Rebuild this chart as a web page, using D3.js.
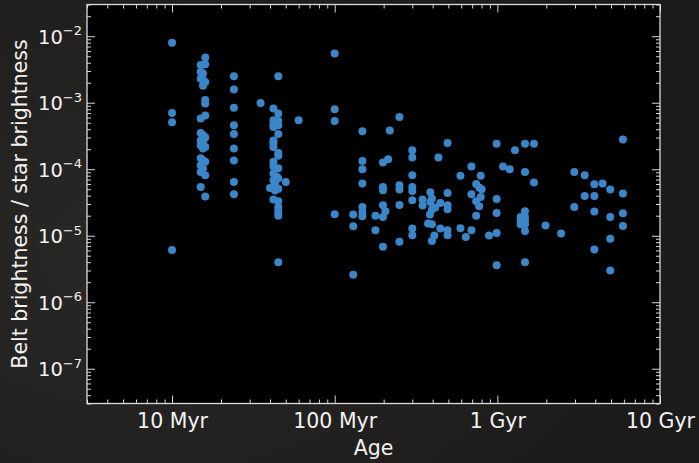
<!DOCTYPE html>
<html><head><meta charset="utf-8">
<script src="https://cdn.jsdelivr.net/npm/d3@7"></script>
<style>
html,body{margin:0;padding:0;background:#1f1e1c;}
svg{display:block;font-family:"DejaVu Sans",sans-serif;}
</style></head>
<body>
<svg id="chart" width="699" height="463"></svg>
<script>
// ---- data: ages in Myr, belt/star brightness ratio ----
const ages = [
 10,10,10,10,
 16,15,16,15,15.5,15,15.5,16,15.5,16,16,16,15,15,15.5,16,15,15.5,15,16,15.5,15,15.5,16,15,15.5,15,16,15,16,
 24,24,24,24,24,24,24,24,24,
 45,35,42,45,42,45,42,45,42,45,42,42,42,45,45,42,42,45,42,44,42,45,50,43,40,45,43,42,45,45,45,45,45,45,60,
 100,100,100,100,
 130,130,130,148,148,148,148,148,148,148,178,178,198,213,198,198,198,205,198,198,218,
 250,250,250,250,250,300,300,300,300,300,300,300,300,347,347,375,396,387,396,387,446,415,396,385,434,446,410,396,
 494,494,494,494,494,494,593,593,640,693,693,693,741,773,800,790,741,773,741,790,889,
 990,990,990,990,990,1084,1191,1283,1479,1679,1479,1679,1479,1390,1479,1390,1479,1390,1479,1479,1479,1978,2466,
 2972,2972,3444,3444,3948,3948,3948,3948,4436,4944,4944,4944,4944,5916,5916,5916,5916
];
const ratios = [
 8.0e-3,7.0e-4,5.1e-4,6.1e-6,
 4.8e-3,3.7e-3,3.8e-3,2.9e-3,2.75e-3,2.3e-3,2.2e-3,2.05e-3,1.8e-3,1.1e-3,9.7e-4,6.4e-4,5.8e-4,3.5e-4,3.25e-4,3.0e-4,2.7e-4,2.6e-4,2.3e-4,2.16e-4,2.05e-4,1.46e-4,1.36e-4,1.29e-4,1.15e-4,1.03e-4,9.1e-5,8.1e-5,5.4e-5,3.9e-5,
 2.5e-3,1.58e-3,8.4e-4,4.6e-4,3.4e-4,2.05e-4,1.35e-4,6.4e-5,4.2e-5,
 2.5e-3,9.9e-4,8.2e-4,6.9e-4,5.45e-4,5.3e-4,4.75e-4,4.6e-4,4.3e-4,3.4e-4,2.7e-4,2.46e-4,2.16e-4,1.76e-4,1.6e-4,1.29e-4,1.11e-4,1.03e-4,8.6e-5,7.7e-5,6.8e-5,7.3e-5,6.4e-5,6.1e-5,5.2e-5,5.1e-5,4.8e-5,3.5e-5,3.3e-5,2.7e-5,2.4e-5,2.2e-5,1.99e-5,4.0e-6,5.45e-4,
 5.5e-3,8.0e-4,5.3e-4,2.1e-5,
 2.08e-5,1.39e-5,2.6e-6,3.73e-4,1.33e-4,1.0e-4,6.1e-5,2.71e-5,2.28e-5,1.96e-5,1.99e-5,1.21e-5,1.26e-4,1.41e-4,5.42e-5,4.83e-5,2.88e-5,2.34e-5,1.92e-5,6.8e-6,3.82e-4,
 6.12e-4,5.75e-5,4.95e-5,2.9e-5,8.1e-6,1.93e-4,1.5e-4,8.1e-5,5.42e-5,4.72e-5,3.42e-5,1.28e-5,1.02e-5,3.5e-5,2.84e-5,1.53e-5,1.49e-5,4.51e-5,3.63e-5,3.22e-5,3.11e-5,2.65e-5,2.48e-5,2.08e-5,1.5e-4,1.28e-5,1.01e-5,8.3e-6,
 2.49e-4,4.4e-5,2.88e-5,2.5e-5,1.21e-5,1.02e-5,8.0e-5,1.3e-5,9.6e-6,1.1e-4,4.21e-5,1.21e-5,6.0e-5,5.3e-5,5.0e-5,8.0e-5,3.3e-5,2.78e-5,2.0e-5,3.83e-5,1.01e-5,
 2.42e-4,3.58e-5,2.2e-5,1.1e-5,3.6e-6,1.1e-4,1.0e-4,1.93e-4,2.42e-4,2.42e-4,9.1e-5,6.3e-5,2.33e-5,1.92e-5,1.92e-5,1.67e-5,1.67e-5,1.49e-5,1.49e-5,1.18e-5,4.0e-6,1.42e-5,1.08e-5,
 9.1e-5,2.71e-5,8.1e-5,3.97e-5,5.95e-5,3.97e-5,2.31e-5,6.2e-6,6.1e-5,4.95e-5,1.92e-5,9.0e-6,3.0e-6,2.8e-4,4.31e-5,2.18e-5,1.4e-5
];
const xMajorTicks = [10, 100, 1000, 10000];
const xTickLabels = ["10 Myr", "100 Myr", "1 Gyr", "10 Gyr"];
const yMajorExponents = [-7, -6, -5, -4, -3, -2];
const xTitle = "Age";
const yTitle = "Belt brightness / star brightness";

// ---- layout ----
const L = 87, R = 660, T = 4.5, B = 403.5;
const svg = d3.select("#chart");
const x = d3.scaleLog().domain([3, 10000]).range([L, R]);
const y = d3.scaleLog().domain([3e-8, 3e-2]).range([B, T]);

// background
const defs = svg.append("defs");
const g0 = defs.append("radialGradient").attr("id","bg").attr("cx","20%").attr("cy","55%").attr("r","80%");
g0.append("stop").attr("offset","0%").attr("stop-color","#2a2825");
g0.append("stop").attr("offset","100%").attr("stop-color","#1c1b1a");
svg.append("rect").attr("width",699).attr("height",463).attr("fill","url(#bg)");
svg.append("rect").attr("x",L).attr("y",T).attr("width",R-L).attr("height",B-T).attr("fill","#000");

const tickColor = "#d8d8d8";
function minorVals(lo, hi){
  const out=[];
  for(let p=Math.floor(Math.log10(lo)); p<=Math.ceil(Math.log10(hi)); p++){
    for(let m=2;m<=9;m++){ const v=m*Math.pow(10,p); if(v>=lo*0.999 && v<=hi*1.001) out.push(v); }
  }
  return out;
}
const xMinor = minorVals(3, 10000);
const yMinor = minorVals(3e-8, 3e-2);
const yMajor = yMajorExponents.map(e => Math.pow(10, e));

function styleAxis(g){
  g.select(".domain").remove();
  g.selectAll("line").attr("stroke", tickColor).attr("stroke-width", 1);
}
// bottom
svg.append("g").attr("transform",`translate(0,${B})`)
  .call(d3.axisBottom(x).tickValues(xMajorTicks).tickSize(-8).tickPadding(10)
        .tickFormat((d,i)=>xTickLabels[i]))
  .call(styleAxis)
  .call(g=>g.selectAll("text").attr("fill","#f2f2f2").attr("font-size",20.5).attr("font-family","DejaVu Sans").attr("dy","0.71em"));
svg.append("g").attr("transform",`translate(0,${B})`)
  .call(d3.axisBottom(x).tickValues(xMinor).tickSize(-4).tickFormat("")).call(styleAxis);
// top
svg.append("g").attr("transform",`translate(0,${T})`)
  .call(d3.axisTop(x).tickValues(xMajorTicks).tickSize(-8).tickFormat("")).call(styleAxis);
svg.append("g").attr("transform",`translate(0,${T})`)
  .call(d3.axisTop(x).tickValues(xMinor).tickSize(-4).tickFormat("")).call(styleAxis);
// left
svg.append("g").attr("transform",`translate(${L},0)`)
  .call(d3.axisLeft(y).tickValues(yMajor).tickSize(-8).tickFormat(""))
  .call(styleAxis);
svg.append("g").attr("transform",`translate(${L},0)`)
  .call(d3.axisLeft(y).tickValues(yMinor).tickSize(-4).tickFormat("")).call(styleAxis);
// right
svg.append("g").attr("transform",`translate(${R},0)`)
  .call(d3.axisRight(y).tickValues(yMajor).tickSize(-8).tickFormat("")).call(styleAxis);
svg.append("g").attr("transform",`translate(${R},0)`)
  .call(d3.axisRight(y).tickValues(yMinor).tickSize(-4).tickFormat("")).call(styleAxis);

// y tick labels with superscripts
yMajorExponents.forEach((e,i)=>{
  const t = svg.append("text")
    .attr("x", L-5).attr("y", y(yMajor[i]) + 7.3)
    .attr("text-anchor","end").attr("fill","#f2f2f2")
    .attr("font-size",19.5).attr("font-family","DejaVu Sans");
  t.append("tspan").text("10");
  t.append("tspan").attr("dy",-8.3).attr("font-size",13).text("\u2212" + Math.abs(e));
});

// frame
svg.append("rect").attr("x",L).attr("y",T).attr("width",R-L).attr("height",B-T)
  .attr("fill","none").attr("stroke","#dcdcdc").attr("stroke-width",1.3);

// points
const pts = ages.map((a,i)=>({a, r: ratios[i]}));
svg.append("g").selectAll("circle").data(pts).join("circle")
  .attr("cx", d=>x(d.a)).attr("cy", d=>y(d.r)).attr("r", 4)
  .attr("fill", "#3a86c8");

// titles
svg.append("text").attr("x",(L+R)/2).attr("y",455).attr("text-anchor","middle")
  .attr("fill","#f2f2f2").attr("font-size",20.5).attr("font-family","DejaVu Sans").text(xTitle);
svg.append("text").attr("transform",`translate(27,${(T+B)/2}) rotate(-90)`)
  .attr("text-anchor","middle").attr("fill","#f2f2f2").attr("font-size",20.5)
  .attr("font-family","DejaVu Sans").text(yTitle);
</script>
</body></html>
